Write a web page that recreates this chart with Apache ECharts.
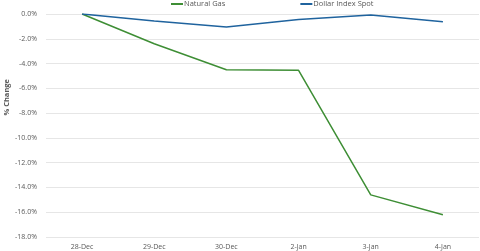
<!DOCTYPE html>
<html><head><meta charset="utf-8">
<script src="https://cdn.jsdelivr.net/npm/echarts@6/dist/echarts.min.js"></script>
<style>html,body{margin:0;padding:0;background:#fff}#c{width:480px;height:251px}</style>
</head><body><div id="c"></div>
<script>
var categories = ['28-Dec','29-Dec','30-Dec','2-Jan','3-Jan','4-Jan'];
var naturalGas = [0, -2.4, -4.5, -4.55, -14.6, -16.2];
var dollarIndex = [0, -0.56, -1.05, -0.45, -0.08, -0.62];
var yTicks = {min: -18, max: 0, interval: 2};

var chart = echarts.init(document.getElementById('c'), null, {renderer: 'canvas'});
chart.setOption({
  animation: false,
  textStyle: {fontFamily: 'Open Sans'},
  legend: {
    top: 0, left: 166, itemGap: 75, itemWidth: 12, itemHeight: 2,
    icon: 'rect', padding: [0, 5],
    textStyle: {fontSize: 7.5, color: '#595959', padding: [0,0,0,-4]},
    data: ['Natural Gas', 'Dollar Index Spot']
  },
  graphic: [{
    type: 'text', left: 3, top: 79, rotation: Math.PI / 2,
    style: {text: '% Change', fontSize: 7.5, fontWeight: 'bold', fill: '#595959', fontFamily: 'Open Sans'}
  }],
  grid: {left: 46, right: 1, top: 14, bottom: 14, containLabel: false, outerBoundsMode: 'none'},
  xAxis: {
    type: 'category', data: categories, boundaryGap: true,
    axisLine: {show: false}, axisTick: {show: false},
    axisLabel: {fontSize: 7, color: '#595959', margin: 6}
  },
  yAxis: {
    type: 'value', min: yTicks.min, max: yTicks.max, interval: yTicks.interval,
    axisLine: {show: false}, axisTick: {show: false},
    axisLabel: {fontSize: 7, color: '#595959', margin: 9, formatter: function(v){return v.toFixed(1)+'%';}},
    splitLine: {lineStyle: {color: '#e6e6e6', width: 1}}
  },
  series: [
    {name: 'Natural Gas', type: 'line', data: naturalGas, symbol: 'none',
     lineStyle: {color: '#3e8e35', width: 1.5}, itemStyle: {color: '#3e8e35'}},
    {name: 'Dollar Index Spot', type: 'line', data: dollarIndex, symbol: 'none',
     lineStyle: {color: '#1f639e', width: 1.5}, itemStyle: {color: '#1f639e'}}
  ]
});
</script></body></html>
